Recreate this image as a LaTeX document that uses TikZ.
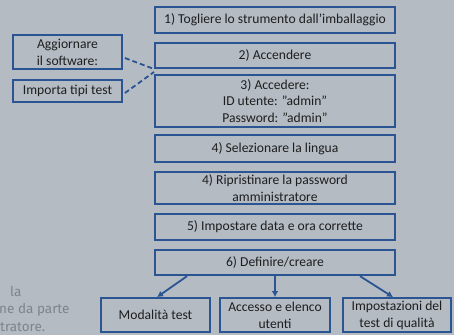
\documentclass[tikz,border=0pt]{standalone}
\usepackage{fontspec}
\setmainfont{Carlito}
\newfontfamily\grayfont{Fira Sans}
\usetikzlibrary{arrows.meta}
\definecolor{bgc}{RGB}{180,187,195}
\definecolor{bluec}{RGB}{42,84,146}
\definecolor{txtc}{RGB}{30,30,30}
\definecolor{grayc}{RGB}{124,132,141}
\tikzset{
  stepbox/.style={draw=bluec, line width=1.8pt, rectangle, inner sep=1pt, align=center,
    text=txtc, font=\fontsize{13.6}{16.8}\selectfont},
  dashlink/.style={draw=bluec, line width=1.8pt, dash pattern=on 5pt off 3pt},
  arrowlink/.style={draw=bluec, line width=1.8pt, -{Latex[length=6pt,width=6.5pt]}},
  graytext/.style={anchor=base west, inner sep=0pt, text=grayc, font=\grayfont\fontsize{13.5}{17}\selectfont}
}
\begin{document}
\begin{tikzpicture}[x=1pt,y=-1pt]
\fill[bgc] (0,0) rectangle (454,335);
\useasboundingbox (0,0) rectangle (454,335);
\begin{scope}
\clip (0,0) rectangle (454,335);
\node[stepbox, minimum width=240pt, minimum height=26pt] (s1) at (275,20) {1) Togliere lo strumento dall'imballaggio};
\node[stepbox, minimum width=240pt, minimum height=25.5pt] (s2) at (275,55.5) {2) Accendere};
\node[stepbox, minimum width=240pt, minimum height=52pt] (s3) at (275,101) {3) Accedere:\\ID utente: ”admin”\\Password: ”admin”};
\node[stepbox, minimum width=240pt, minimum height=27pt] (s4) at (275,148.5) {4) Selezionare la lingua};
\node[stepbox, minimum width=240pt, minimum height=32pt] (s4b) at (275,188) {4) Ripristinare la password\\amministratore};
\node[stepbox, minimum width=240pt, minimum height=26pt] (s5) at (275,227) {5) Impostare data e ora corrette};
\node[stepbox, minimum width=240pt, minimum height=25.5pt] (s6) at (275,262.5) {6) Definire/creare};
\node[stepbox, minimum width=109pt, minimum height=34pt] (mod) at (155.5,315) {Modalità test};
\node[stepbox, minimum width=110pt, minimum height=34pt] (acc) at (275,315) {Accesso e elenco\\utenti};
\node[stepbox, minimum width=108pt, minimum height=34pt] (imp) at (397,315) {Impostazioni del\\test di qualità};
\node[stepbox, minimum width=109pt, minimum height=34pt] (agg) at (67.5,52) {Aggiornare\\il software:};
\node[stepbox, minimum width=109pt, minimum height=22pt] (tip) at (67.5,91) {Importa tipi test};
\coordinate (j1) at (154,69);
\coordinate (j2) at (154,72);
\draw[dashlink] ([xshift=2pt,yshift=-6pt]agg.east) -- (j1);
\draw[dashlink] ([xshift=2pt,yshift=-2pt]tip.east) -- (j2);
\draw[arrowlink] ([xshift=-88pt]s6.south) -- ([xshift=1.5pt]mod.north);
\draw[arrowlink] (s6.south) -- (acc.north);
\draw[arrowlink] ([xshift=85pt]s6.south) -- ([xshift=-4pt]imp.north);
\node[graytext] (g1) at (10,296) {la};
\node[graytext] (g2) at (-1,313) {ne da parte};
\node[graytext] (g3) at (0,331) {tratore.};
\end{scope}
\end{tikzpicture}
\end{document}
